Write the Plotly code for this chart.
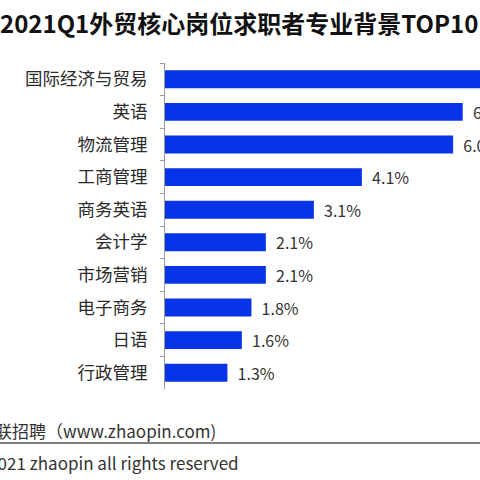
import plotly.graph_objects as go

# Datos (de mayor a menor, como en el gráfico original)
majors = ['国际经济与贸易', '英语', '物流管理', '工商管理', '商务英语',
          '会计学', '市场营销', '电子商务', '日语', '行政管理']
share = [7.6, 6.2, 6.0, 4.1, 3.1, 2.1, 2.1, 1.8, 1.6, 1.3]

title_text = '2021Q1外贸核心岗位求职者专业背景TOP10'
source_text = '数据来源：智联招聘（www.zhaopin.com)'
copyright_text = '©2021 zhaopin all rights reserved'

font_cn = 'Noto Sans CJK SC'
bar_color = '#0634e6'

fig = go.Figure(go.Bar(
    x=share,
    y=majors,
    orientation='h',
    marker=dict(color=bar_color, line=dict(width=0)),
    text=['\u00a0\u00a0' + f'{v:.1f}%' for v in share],
    textposition='outside',
    constraintext='none',
    textfont=dict(family=font_cn, size=16, color='#333333'),
    cliponaxis=False,
    width=0.55,
    hoverinfo='skip',
))

fig.update_layout(
    width=480, height=480,
    margin=dict(l=165, r=0, t=63, b=91),
    paper_bgcolor='white',
    plot_bgcolor='white',
    showlegend=False,
    title=dict(
        text='<b>' + title_text + '</b>',
        x=0, xref='container', xanchor='left',
        y=1 - 25 / 480, yref='container', yanchor='middle',
        font=dict(family=font_cn, size=24, color='#111111'),
    ),
    font=dict(family=font_cn),
)

fig.update_xaxes(range=[0, 6.56], visible=False, showgrid=False)
fig.update_yaxes(
    autorange=False, range=[9.5, -0.5],
    showline=True, linecolor='#9a9a9a', linewidth=1,
    ticks='outside', ticklen=4, tickcolor='#9a9a9a',
    tickson='boundaries', showgrid=False,
    ticklabelstandoff=13,
    tickfont=dict(family=font_cn, size=17.5, color='#2a2a2a'),
)

# Pie de gráfico: fuente, línea y copyright (recortados a la izquierda)
fig.add_annotation(text=source_text, xref='paper', yref='paper',
                   x=(218 - 165) / 315, xanchor='right',
                   y=(389 - 430) / 326, yanchor='middle',
                   showarrow=False,
                   font=dict(family=font_cn, size=17, color='#333333'))
fig.add_shape(type='line', xref='paper', yref='paper',
              x0=-0.6, x1=1.0, y0=(389 - 443) / 326, y1=(389 - 443) / 326,
              line=dict(color='#555555', width=1.5))
fig.add_annotation(text=copyright_text, xref='paper', yref='paper',
                   x=(241 - 165) / 315, xanchor='right',
                   y=(389 - 462) / 326, yanchor='middle',
                   showarrow=False,
                   font=dict(family=font_cn, size=17, color='#333333'))

# quitar el margen por defecto del body para que la figura empiece en (0, 0)
fig.write_html('out.html', config={'displayModeBar': False},
               post_script="document.body.style.margin='0';")
